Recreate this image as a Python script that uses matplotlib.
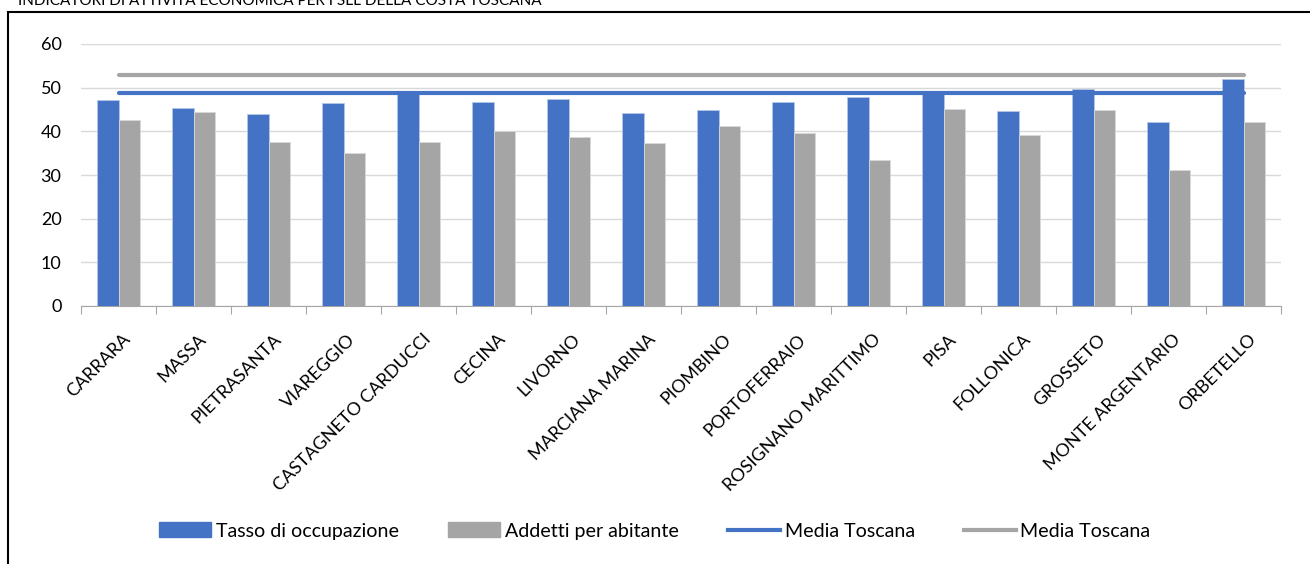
import numpy as np
import matplotlib.pyplot as plt
import matplotlib.transforms as mtransforms
from matplotlib.patches import Rectangle
from matplotlib.lines import Line2D
from matplotlib.patches import Patch

plt.rcParams['font.family'] = ['Lato', 'DejaVu Sans']

categories = ["CARRARA", "MASSA", "PIETRASANTA", "VIAREGGIO", "CASTAGNETO CARDUCCI",
              "CECINA", "LIVORNO", "MARCIANA MARINA", "PIOMBINO", "PORTOFERRAIO",
              "ROSIGNANO MARITTIMO", "PISA", "FOLLONICA", "GROSSETO",
              "MONTE ARGENTARIO", "ORBETELLO"]
tasso = [47.2, 45.3, 44.0, 46.5, 49.2, 46.7, 47.4, 44.2, 44.9, 46.7, 47.9, 49.2,
         44.7, 49.7, 42.1, 52.0]
addetti = [42.6, 44.4, 37.6, 35.0, 37.6, 40.1, 38.7, 37.3, 41.2, 39.6, 33.4, 45.1,
           39.2, 44.9, 31.1, 42.1]
media_tasso = 48.8
media_addetti = 52.9

blue = '#4472C4'
grey = '#A5A5A5'

fig = plt.figure(figsize=(13.1, 5.64), dpi=100)
ax = fig.add_axes([81 / 1310, 1 - 306 / 564, 1200 / 1310, 262 / 564])

x = np.arange(len(categories))
w = 0.285
ax.bar(x - w / 2, tasso, w, color=blue, edgecolor='#b4c7e7', linewidth=0.6, zorder=3)
ax.bar(x + w / 2, addetti, w, color=grey, edgecolor='#d9d9d9', linewidth=0.6, zorder=3)
ax.plot(x, [media_tasso] * len(x), color=blue, lw=3, zorder=4, solid_capstyle='round')
ax.plot(x, [media_addetti] * len(x), color=grey, lw=3, zorder=4, solid_capstyle='round')

ax.set_xlim(-0.5, len(x) - 0.5)
ax.set_ylim(0, 60)
ax.set_yticks(range(0, 61, 10))
ax.yaxis.grid(True, color='#d9d9d9', lw=1)
ax.set_axisbelow(True)
for s in ['top', 'right', 'left']:
    ax.spines[s].set_visible(False)
ax.spines['bottom'].set_color('#a6a6a6')
ax.tick_params(axis='y', length=0, labelsize=13, pad=14)
ax.set_xticks(np.arange(len(x) + 1) - 0.5, minor=False)
ax.set_xticklabels([])
ax.tick_params(axis='x', which='major', length=6, color='#a6a6a6', direction='out')
ax.set_xticks(x, minor=True)
ax.set_xticklabels(categories, minor=True, rotation=45, ha='right', va='top',
                   rotation_mode='anchor', fontsize=13)
ax.tick_params(axis='x', which='minor', length=0, pad=18)
# nudge the slanted labels a few pixels right, like the original
shift = mtransforms.ScaledTranslation(4 / 100, 0, fig.dpi_scale_trans)
for lbl in ax.get_xticklabels(minor=True):
    lbl.set_transform(lbl.get_transform() + shift)

handles = [Patch(color=blue), Patch(color=grey),
           Line2D([], [], color=blue, lw=3), Line2D([], [], color=grey, lw=3)]
labels = ["Tasso di occupazione", "Addetti per abitante", "Media Toscana", "Media Toscana"]
fig.legend(handles, labels, loc='center', bbox_to_anchor=(0.5, 1 - 531 / 564),
           ncol=4, frameon=False, fontsize=14.1, handlelength=2.65, handleheight=0.75,
           columnspacing=2.5, handletextpad=0.25)

fig.patches.append(Rectangle((8 / 1310, -0.05), 1.1, 1 - 12 / 564 + 0.05,
                             transform=fig.transFigure, fill=False,
                             edgecolor='black', lw=1.5))
fig.text(18 / 1310, 1 - 5 / 564, "INDICATORI DI ATTIVITÀ ECONOMICA PER I SLL DELLA COSTA TOSCANA",
         fontsize=11, va='baseline', ha='left')

fig.savefig('out.png', dpi=100)
